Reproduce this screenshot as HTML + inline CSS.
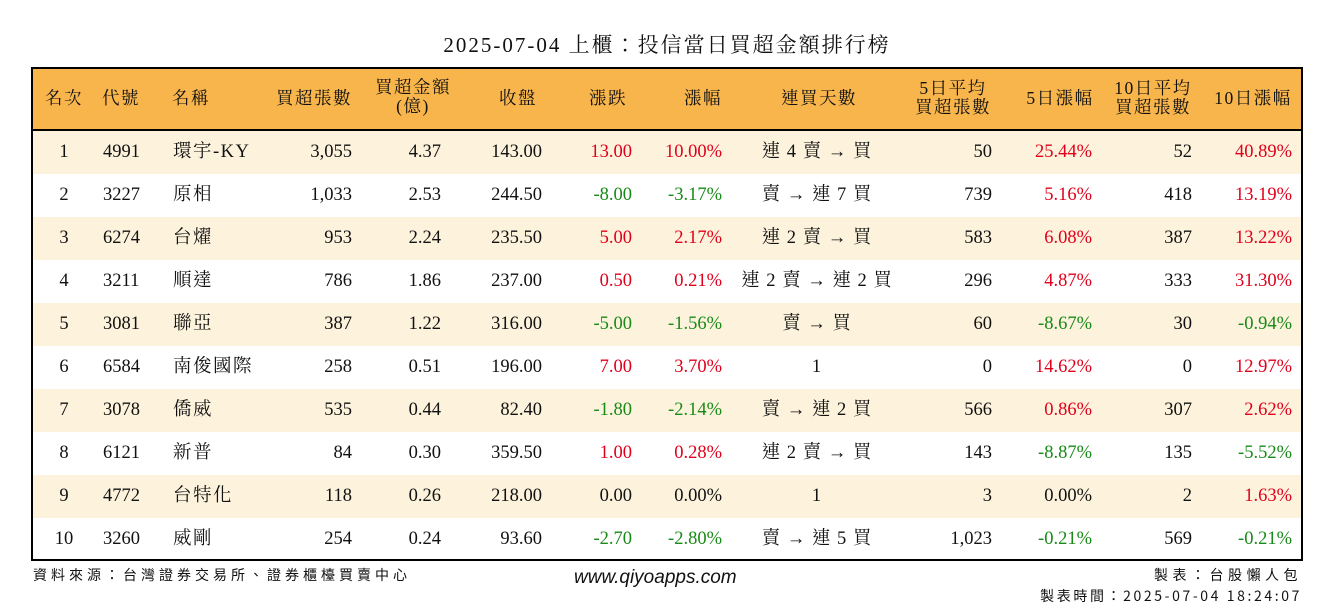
<!DOCTYPE html>
<html><head><meta charset="utf-8">
<style>
body{margin:0;width:1334px;height:612px;background:#fff;position:relative;overflow:hidden;font-family:"Liberation Serif","Noto Serif CJK TC","Noto Serif CJK SC",serif;color:#111}
.abs{position:absolute;white-space:nowrap}
#title{left:0;width:1334px;top:29px;text-align:center;font-size:21px;letter-spacing:2px}
#tbl{left:31px;top:67px;width:1268px;height:490px;border:2px solid #000;overflow:hidden}
#hdr{left:0;top:0;width:1268px;height:60px;background:#f8b54b;border-bottom:2px solid #000}
.row{left:0;width:1268px;height:43px}
.c{font-size:18.5px;line-height:43px}
.h{font-size:17.5px;line-height:19px;text-align:center;letter-spacing:1.5px}
.r{color:#e0001b}.g{color:#178a17}
.foot{font-family:"Noto Sans CJK TC","Liberation Sans",sans-serif;font-size:14px;letter-spacing:4px}
</style></head><body>
<div class="abs" id="title">2025-07-04 上櫃：投信當日買超金額排行榜</div>
<div class="abs" id="tbl">
<div class="abs" id="hdr"></div>
</div>
<div class="abs foot" style="left:33px;top:565px">資料來源：台灣證券交易所、證券櫃檯買賣中心</div>
<div class="abs" style="left:574px;top:567px;font-family:'Liberation Sans',sans-serif;font-style:italic;font-size:19px">www.qiyoapps.com</div>
<div class="abs foot" style="right:32px;top:565px;letter-spacing:4.5px">製表：台股懶人包</div>
<div class="abs foot" style="right:32px;top:586px;letter-spacing:2.6px">製表時間：2025-07-04 18:24:07</div>
<script>
const ranks=[1,2,3,4,5,6,7,8,9,10];
const codes=["4991","3227","6274","3211","3081","6584","3078","6121","4772","3260"];
const names=["環宇-KY","原相","台燿","順達","聯亞","南俊國際","僑威","新普","台特化","威剛"];
const buyVol=["3,055","1,033","953","786","387","258","535","84","118","254"];
const buyAmt=["4.37","2.53","2.24","1.86","1.22","0.51","0.44","0.30","0.26","0.24"];
const closes=["143.00","244.50","235.50","237.00","316.00","196.00","82.40","359.50","218.00","93.60"];
const changes=["13.00","-8.00","5.00","0.50","-5.00","7.00","-1.80","1.00","0.00","-2.70"];
const pcts=["10.00%","-3.17%","2.17%","0.21%","-1.56%","3.70%","-2.14%","0.28%","0.00%","-2.80%"];
const streaks=["連 4 賣 → 買","賣 → 連 7 買","連 2 賣 → 買","連 2 賣 → 連 2 買","賣 → 買","1","賣 → 連 2 買","連 2 賣 → 買","1","賣 → 連 5 買"];
const avg5=["50","739","583","296","60","0","566","143","3","1,023"];
const chg5=["25.44%","5.16%","6.08%","4.87%","-8.67%","14.62%","0.86%","-8.87%","0.00%","-0.21%"];
const avg10=["52","418","387","333","30","0","307","135","2","569"];
const chg10=["40.89%","13.19%","13.22%","31.30%","-0.94%","12.97%","2.62%","-5.52%","1.63%","-0.21%"];
const headers=["名次","代號","名稱","買超張數","買超金額<br>(億)","收盤","漲跌","漲幅","連買天數","5日平均<br>買超張數","5日漲幅","10日平均<br>買超張數","10日漲幅"];
const cols=[["c",31],["l",70],["l",140],["r",319],["r",408],["r",509],["r",599],["r",689],["c",784],["r",959],["r",1059],["r",1159],["r",1259]];
const hx=[31,88,158,281,380,485,575,670,786,920,1027,1120,1220];
const tbl=document.getElementById('tbl');
const hdr=document.getElementById('hdr');
function place(el,type,x,w){
  if(type==="c"){el.style.left=(x-w/2)+"px";el.style.width=w+"px";el.style.textAlign="center";}
  else if(type==="l"){el.style.left=x+"px";}
  else {el.style.right=(1268-x)+"px";}
}
headers.forEach((t,i)=>{
  const d=document.createElement('div');d.className='abs h';d.innerHTML=t;
  
  
  d.style.left=(hx[i]-55)+"px";d.style.width="110px";
  const two=t.includes('<br>');d.style.top=(two?10:20)+"px";
  if(i===4){d.style.top="9px";}
  hdr.appendChild(d);
});
function cls(v){if(v.startsWith('-'))return 'g';if(/^0\.00/.test(v))return '';return 'r';}
ranks.forEach((rk,i)=>{
  const row=document.createElement('div');row.className='abs row';
  
  
  row.style.top=(62+43*i)+"px";row.style.background=i%2===0?'#fdf2dc':'#fff';
  const vals=[String(rk),codes[i],names[i],buyVol[i],buyAmt[i],closes[i],changes[i],pcts[i],streaks[i],avg5[i],chg5[i],avg10[i],chg10[i]];
  vals.forEach((v,j)=>{
    const c=document.createElement('div');c.className='abs c';c.textContent=v;
    
    
    c.style.top="0";
    if(j===2)c.style.letterSpacing="1.5px";
    if(j===8)c.style.letterSpacing="1px";
    place(c,cols[j][0],cols[j][1],j===8?200:60);
    if([6,7,10,12].includes(j)){const k=cls(v);if(k)c.classList.add(k);}
    row.appendChild(c);
  });
  tbl.appendChild(row);
});
</script>
</body></html>
